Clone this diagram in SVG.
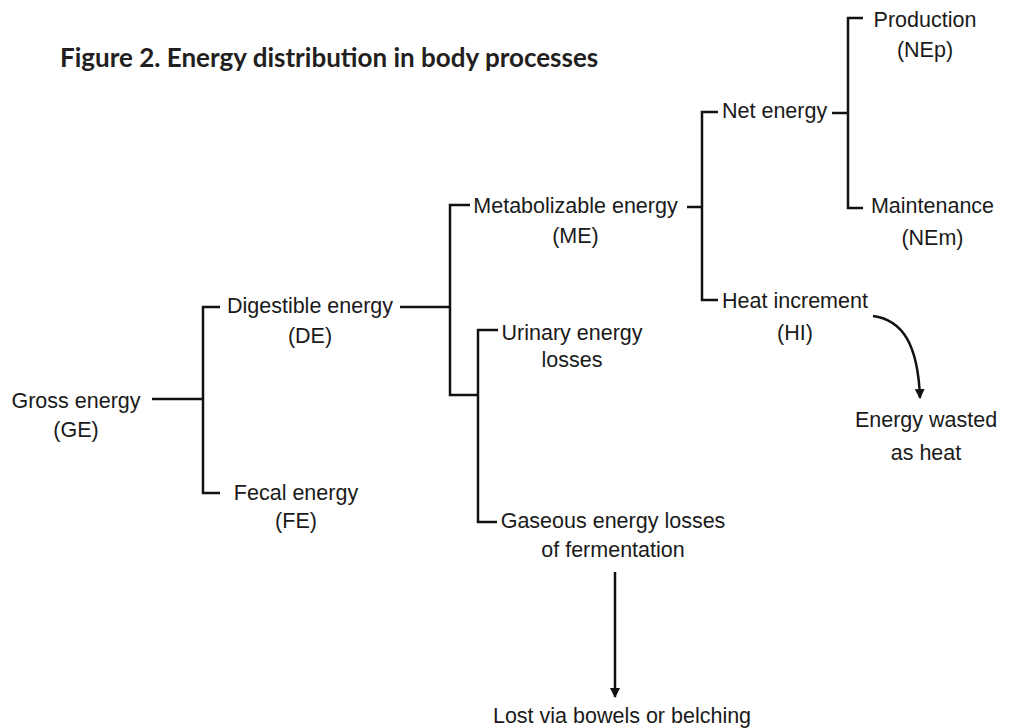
<svg xmlns="http://www.w3.org/2000/svg" width="1013" height="728" viewBox="0 0 1013 728">
<style>
.t{font-family:"Liberation Sans",Arial,sans-serif;font-size:21.5px;fill:#1a1a1a}
.c{text-anchor:middle}
.title{font-family:Lato,"Open Sans",sans-serif;font-weight:bold;font-size:26px;fill:#231f20}
.ln{fill:none;stroke:#111;stroke-width:2.5}
</style>
<defs>
<marker id="ah" viewBox="0 0 10 10" refX="9" refY="5" markerWidth="4" markerHeight="4" orient="auto" markerUnits="strokeWidth">
<path d="M0,0 L10,5 L0,10 z" fill="#111"/>
</marker>
</defs>
<rect width="1013" height="728" fill="#fff"/>
<text class="title" x="60" y="67">Figure 2. Energy distribution in body processes</text>
<g id="connectors">
<path class="ln" d="M152,399 H203"/>
<path class="ln" d="M220,307 H203 V493 H220"/>
<path class="ln" d="M400,307 H450"/>
<path class="ln" d="M470,205 H450 V395 H478"/>
<path class="ln" d="M498,330 H478 V522 H497"/>
<path class="ln" d="M687,207 H702"/>
<path class="ln" d="M718,112 H702 V300 H718"/>
<path class="ln" d="M832,113 H848"/>
<path class="ln" d="M863,18 H848 V208 H863"/>
<path class="ln" d="M873,316 C903,320 918,345 920,398" marker-end="url(#ah)"/>
<path class="ln" d="M615,572 V697" marker-end="url(#ah)"/>
</g>
<g id="ge"><text class="t c" x="76" y="408">Gross energy</text><text class="t c" x="76" y="437">(GE)</text></g>
<g id="de"><text class="t c" x="310" y="313">Digestible energy</text><text class="t c" x="310" y="343">(DE)</text></g>
<g id="fe"><text class="t c" x="296" y="500">Fecal energy</text><text class="t c" x="296" y="528">(FE)</text></g>
<g id="me"><text class="t c" x="575.5" y="213">Metabolizable energy</text><text class="t c" x="575.5" y="243">(ME)</text></g>
<g id="ue"><text class="t c" x="572" y="340">Urinary energy</text><text class="t c" x="572" y="367">losses</text></g>
<g id="gas"><text class="t c" x="613" y="528">Gaseous energy losses</text><text class="t c" x="613" y="557">of fermentation</text></g>
<g id="lost"><text class="t c" x="622" y="723">Lost via bowels or belching</text></g>
<g id="ne"><text class="t" x="722" y="118">Net energy</text></g>
<g id="nep"><text class="t c" x="925" y="27">Production</text><text class="t c" x="925" y="57">(NEp)</text></g>
<g id="nem"><text class="t c" x="932.5" y="213">Maintenance</text><text class="t c" x="932.5" y="245">(NEm)</text></g>
<g id="hi"><text class="t c" x="795" y="308">Heat increment</text><text class="t c" x="795" y="340">(HI)</text></g>
<g id="waste"><text class="t c" x="926" y="427">Energy wasted</text><text class="t c" x="926" y="460">as heat</text></g>
</svg>
